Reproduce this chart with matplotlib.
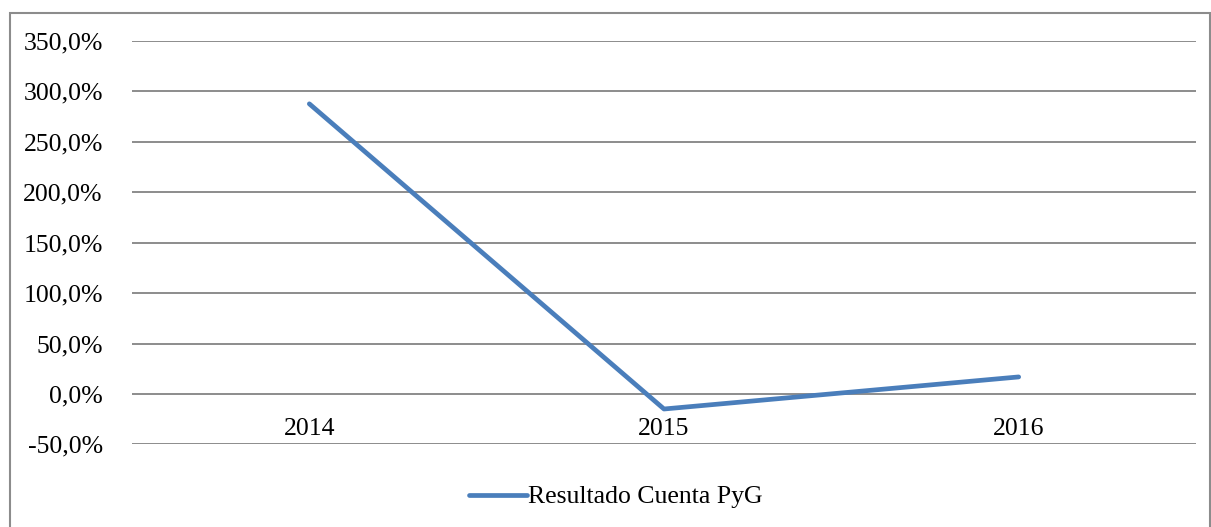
import matplotlib
matplotlib.use("Agg")
import matplotlib.pyplot as plt
import matplotlib.ticker as ticker
from matplotlib.patches import Rectangle

# ── Data ───────────────────────────────────────────────────────────────────────
years = ["2014", "2015", "2016"]
resultado = [287.7, -14.9, 16.9]          # % change
series_name = "Resultado Cuenta PyG"
y_ticks = [-50, 0, 50, 100, 150, 200, 250, 300, 350]

# ── Style ──────────────────────────────────────────────────────────────────────
plt.rcParams.update({
    "font.family": ["Liberation Serif", "DejaVu Serif"],
    "font.size": 18.5,
})
LINE_COLOR = "#4A7EBB"
GRID_COLOR = "#8C8C8C"

W, H = 1211, 527
fig = plt.figure(figsize=(W / 100, H / 100), dpi=100)
ax = fig.add_axes([132 / W, 1 - 444.4 / H, (1196 - 132) / W, (444.4 - 41) / H])

x = list(range(len(years)))
line, = ax.plot(x, resultado, color=LINE_COLOR, linewidth=3.4,
                solid_capstyle="round", label=series_name)

ax.set_xlim(-0.5, len(years) - 0.5)
ax.set_ylim(min(y_ticks), max(y_ticks))
ax.set_yticks(y_ticks)
ax.yaxis.set_major_formatter(
    ticker.FuncFormatter(lambda v, _: f"{v:.1f}%".replace(".", ",")))
ax.tick_params(axis="y", length=0, pad=21)
ax.set_xticks([])
for s in ax.spines.values():
    s.set_visible(False)
ax.grid(axis="y", color=GRID_COLOR, linewidth=1.4)
ax.set_axisbelow(True)

# category labels sit just under the zero line, like Excel
for xi, yr in zip(x, years):
    ax.annotate(yr, xy=(xi, 0), xytext=(0, -41), textcoords="offset pixels",
                ha="center", va="baseline")

fig.legend(handles=[line], loc="center left",
           bbox_to_anchor=(469 / W, 1 - 497 / H), frameon=False,
           handlelength=2.25, handletextpad=0.05, borderpad=0, borderaxespad=0)

# outer chart border
fig.patches.append(Rectangle((10 / W, -0.05), 1199.5 / W, 1.05 - 13 / H,
                             transform=fig.transFigure, fill=False,
                             edgecolor=GRID_COLOR, linewidth=1.5))

fig.savefig("out.png", dpi=100)
